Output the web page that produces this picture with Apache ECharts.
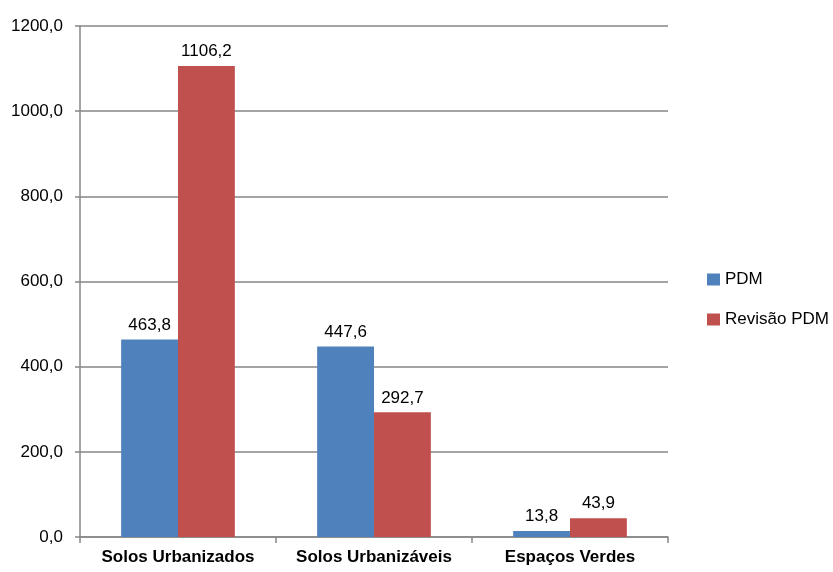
<!DOCTYPE html>
<html>
<head>
<meta charset="utf-8">
<script src="https://cdn.jsdelivr.net/npm/echarts@6/dist/echarts.min.js"></script>
<style>
  html, body { margin: 0; padding: 0; background: #fff; }
  #chart { width: 833px; height: 572px; }
</style>
</head>
<body>
<div id="chart"></div>
<script>
// Áreas por classe de solo (ha)
const categories = ['Solos Urbanizados', 'Solos Urbanizáveis', 'Espaços Verdes'];
const pdmValues = [463.8, 447.6, 13.8];
const revisaoValues = [1106.2, 292.7, 43.9];
const seriesNames = ['PDM', 'Revisão PDM'];

const fmt = v => v.toFixed(1).replace('.', ',');
const font = '"Liberation Sans", Arial, sans-serif';

const chart = echarts.init(document.getElementById('chart'), null, { renderer: 'canvas' });

const labelStyle = {
  show: true,
  position: 'top',
  distance: 6,
  color: '#000',
  fontFamily: font,
  fontSize: 17,
  formatter: p => fmt(p.value)
};

chart.setOption({
  animation: false,
  backgroundColor: '#fff',
  grid: { left: 80, right: 165, top: 26, bottom: 35, containLabel: false },
  legend: {
    orient: 'vertical',
    left: 702,
    top: 266,
    itemWidth: 13,
    itemHeight: 12,
    itemGap: 23,
    icon: 'rect',
    textStyle: { fontFamily: font, fontSize: 17, color: '#000' },
    data: seriesNames
  },
  xAxis: {
    type: 'category',
    data: categories,
    axisLine: { lineStyle: { color: '#868686', width: 1.5 } },
    axisTick: { show: true, alignWithLabel: false, length: 6, lineStyle: { color: '#868686', width: 1.5 } },
    axisLabel: {
      interval: 0,
      hideOverlap: false,
      color: '#000',
      fontFamily: font,
      fontSize: 17,
      fontWeight: 'bold',
      margin: 12
    }
  },
  yAxis: {
    type: 'value',
    min: 0,
    max: 1200,
    interval: 200,
    axisLine: { show: true, lineStyle: { color: '#868686', width: 1.5 } },
    axisTick: { show: true, length: 5, lineStyle: { color: '#868686', width: 1.5 } },
    splitLine: { lineStyle: { color: '#868686', width: 1.5 } },
    axisLabel: { color: '#000', fontFamily: font, fontSize: 17, margin: 17, formatter: v => fmt(v) }
  },
  series: [
    {
      name: seriesNames[0],
      type: 'bar',
      data: pdmValues,
      barGap: '0%',
      barCategoryGap: '42%',
      itemStyle: { color: '#4F81BD' },
      label: labelStyle
    },
    {
      name: seriesNames[1],
      type: 'bar',
      data: revisaoValues,
      itemStyle: { color: '#C0504D' },
      label: labelStyle
    }
  ]
});
</script>
</body>
</html>
